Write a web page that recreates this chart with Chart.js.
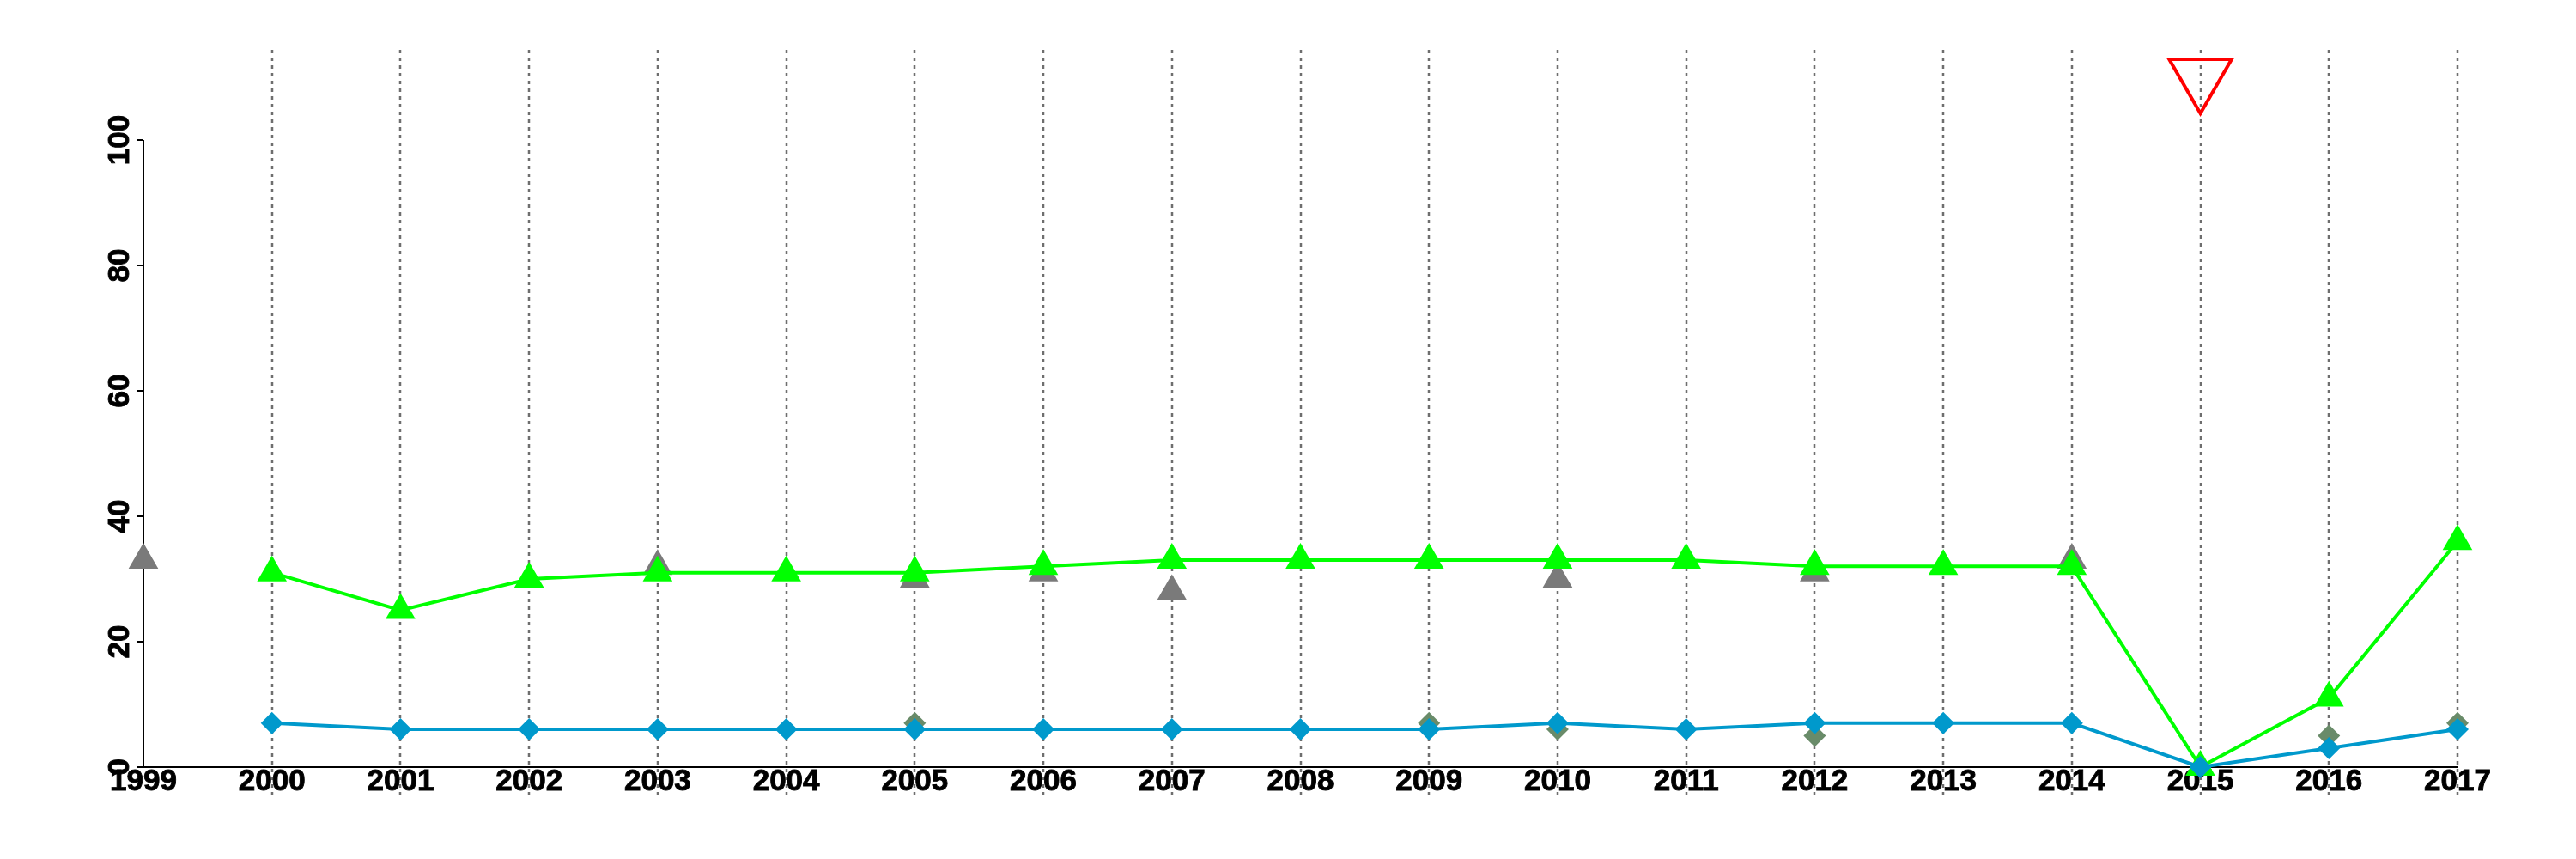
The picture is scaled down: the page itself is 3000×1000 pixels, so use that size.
<!DOCTYPE html>
<html>
<head>
<meta charset="utf-8">
<script src="https://cdn.jsdelivr.net/npm/chart.js@4/dist/chart.umd.min.js"></script>
<style>
  html, body { margin: 0; padding: 0; background: #ffffff; }
  #wrap { width: 3000px; height: 1000px; }
</style>
</head>
<body>
<div id="wrap"><canvas id="c" width="3000" height="1000"></canvas></div>
<script>
// ---- data ----
const years = [1999, 2000, 2001, 2002, 2003, 2004, 2005, 2006, 2007, 2008, 2009, 2010, 2011, 2012, 2013, 2014, 2015, 2016, 2017];
const greenLine   = [null, 31, 25, 30, 31, 31, 31, 32, 33, 33, 33, 33, 33, 32, 32, 32, 0, 11, 36];
const greyTri     = [33, null, null, null, 32, null, 30, 31, 28, null, null, 30, null, 31, null, 33, null, null, null];
const blueLine    = [null, 7, 6, 6, 6, 6, 6, 6, 6, 6, 6, 7, 6, 7, 7, 7, 0, 3, 6];
const darkDiamond = [null, null, null, null, null, null, 7, null, null, null, 7, 6, null, 5, null, null, null, 5, 7];
const redMarker   = [null, null, null, null, null, null, null, null, null, null, null, null, null, null, null, null, 110, null, null];
const yTicks = [0, 20, 40, 60, 80, 100];
const xGridYears = [2000, 2001, 2002, 2003, 2004, 2005, 2006, 2007, 2008, 2009, 2010, 2011, 2012, 2013, 2014, 2015, 2016, 2017];

const pts = arr => years.map((yr, i) => ({ x: yr, y: arr[i] }));
const FONT = 'bold 35px "Liberation Sans", Arial, sans-serif';

function boldText(ctx, s, x, y) {
  ctx.fillText(s, x, y);
  ctx.strokeText(s, x, y);
}

const axesPlugin = {
  id: 'rAxes',
  beforeDatasetsDraw(chart) {
    const ctx = chart.ctx, xs = chart.scales.x, ys = chart.scales.y, a = chart.chartArea;
    ctx.save();
    // dotted verticals
    ctx.strokeStyle = '#6e6e6e';
    ctx.lineWidth = 2.5;
    ctx.setLineDash([4, 5]);
    xGridYears.forEach(yr => {
      const px = Math.round(xs.getPixelForValue(yr));
      ctx.beginPath();
      ctx.moveTo(px, a.top);
      ctx.lineTo(px, a.bottom);
      ctx.stroke();
    });
    ctx.setLineDash([]);
    // axis lines
    ctx.strokeStyle = '#000';
    ctx.lineWidth = 2;
    const x0 = xs.getPixelForValue(years[0]);
    const x1 = xs.getPixelForValue(years[years.length - 1]);
    const y0 = ys.getPixelForValue(yTicks[0]);
    const y1 = ys.getPixelForValue(yTicks[yTicks.length - 1]);
    ctx.beginPath();
    ctx.moveTo(x0, y0); ctx.lineTo(x1, y0);
    ctx.moveTo(x0, y0); ctx.lineTo(x0, y1);
    yTicks.forEach(t => {
      const py = ys.getPixelForValue(t);
      ctx.moveTo(x0 - 8, py); ctx.lineTo(x0, py);
    });
    ctx.stroke();
    // x labels
    ctx.fillStyle = '#000';
    ctx.strokeStyle = '#000';
    ctx.lineWidth = 0.9;
    ctx.font = FONT;
    ctx.textAlign = 'center';
    ctx.textBaseline = 'alphabetic';
    years.forEach(yr => {
      boldText(ctx, String(yr), xs.getPixelForValue(yr), y0 + 27);
    });
    // y labels rotated
    yTicks.forEach(t => {
      const py = ys.getPixelForValue(t);
      ctx.save();
      ctx.translate(x0 - 17, py);
      ctx.rotate(-Math.PI / 2);
      boldText(ctx, String(t), 0, 0);
      ctx.restore();
    });
    ctx.restore();
  }
};

new Chart(document.getElementById('c'), {
  type: 'line',
  data: {
    datasets: [
      {
        label: 'red', data: pts(redMarker), showLine: false, order: 0,
        pointStyle: 'triangle', rotation: 180, pointRadius: 42,
        pointBackgroundColor: 'rgba(0,0,0,0)', pointBorderColor: '#ff0000', pointBorderWidth: 4,
        clip: false
      },
      {
        label: 'blue', data: pts(blueLine), order: 1,
        borderColor: '#0099cc', borderWidth: 4, tension: 0,
        pointStyle: 'rectRot', pointRadius: 13,
        pointBackgroundColor: '#0099cc', pointBorderWidth: 0,
        clip: false
      },
      {
        label: 'green', data: pts(greenLine), order: 2,
        borderColor: '#00ff00', borderWidth: 4, tension: 0,
        pointStyle: 'triangle', pointRadius: 20,
        pointBackgroundColor: '#00ff00', pointBorderWidth: 0,
        clip: false
      },
      {
        label: 'darkDiamond', data: pts(darkDiamond), showLine: false, order: 3,
        pointStyle: 'rectRot', pointRadius: 13,
        pointBackgroundColor: '#698b69', pointBorderWidth: 0,
        clip: false
      },
      {
        label: 'greyTri', data: pts(greyTri), showLine: false, order: 4,
        pointStyle: 'triangle', pointRadius: 20,
        pointBackgroundColor: '#7a7a7a', pointBorderWidth: 0,
        clip: false
      }
    ]
  },
  options: {
    responsive: false,
    devicePixelRatio: 1,
    animation: false,
    events: [],
    layout: { padding: { left: 167, right: 138, top: 58, bottom: 75 } },
    plugins: { legend: { display: false }, tooltip: { enabled: false } },
    scales: {
      x: { type: 'linear', min: 1999, max: 2017, display: false },
      y: { type: 'linear', min: -4.4, max: 114.4, display: false }
    }
  },
  plugins: [axesPlugin]
});
</script>
</body>
</html>
